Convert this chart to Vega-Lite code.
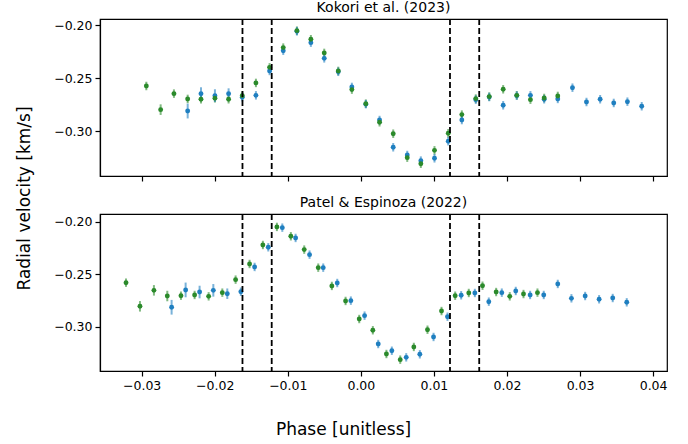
{
  "$schema": "https://vega.github.io/schema/vega-lite/v6.json",
  "background": "white",
  "padding": {"left": 15, "top": 0, "right": 5, "bottom": 5},
  "config": {
    "font": "DejaVu Sans",
    "view": {"stroke": "black", "strokeWidth": 1.2},
    "axis": {
      "domainColor": "black", "domainWidth": 1.2,
      "tickColor": "black", "tickWidth": 1.2, "tickSize": 5,
      "labelColor": "black", "labelFont": "DejaVu Sans", "labelFontSize": 12.5, "labelPadding": 3,
      "titleFont": "DejaVu Sans", "titleFontSize": 17, "titleFontWeight": "normal", "titleColor": "black",
      "grid": false
    },
    "title": {"font": "DejaVu Sans", "fontSize": 14, "fontWeight": "normal", "color": "black", "offset": 3},
    "concat": {"spacing": 38}
  },
  "datasets": {
    "kokori": [
      {"phase": -0.02936, "rv": -0.2571, "err": 0.004, "set": "B"},
      {"phase": -0.02740, "rv": -0.2794, "err": 0.005, "set": "B"},
      {"phase": -0.02558, "rv": -0.2643, "err": 0.004, "set": "B"},
      {"phase": -0.02370, "rv": -0.2693, "err": 0.004, "set": "B"},
      {"phase": -0.02188, "rv": -0.2696, "err": 0.004, "set": "B"},
      {"phase": -0.01997, "rv": -0.2687, "err": 0.004, "set": "B"},
      {"phase": -0.01810, "rv": -0.2696, "err": 0.004, "set": "B"},
      {"phase": -0.01623, "rv": -0.2662, "err": 0.004, "set": "B"},
      {"phase": -0.01436, "rv": -0.2542, "err": 0.004, "set": "B"},
      {"phase": -0.01249, "rv": -0.2395, "err": 0.004, "set": "B"},
      {"phase": -0.01062, "rv": -0.2209, "err": 0.004, "set": "B"},
      {"phase": -0.00875, "rv": -0.2049, "err": 0.004, "set": "B"},
      {"phase": -0.00684, "rv": -0.2130, "err": 0.004, "set": "B"},
      {"phase": -0.00501, "rv": -0.2259, "err": 0.004, "set": "B"},
      {"phase": -0.00309, "rv": -0.2429, "err": 0.004, "set": "B"},
      {"phase": -0.00123, "rv": -0.2605, "err": 0.004, "set": "B"},
      {"phase": 0.00068, "rv": -0.2738, "err": 0.004, "set": "B"},
      {"phase": 0.00256, "rv": -0.2913, "err": 0.004, "set": "B"},
      {"phase": 0.00443, "rv": -0.3021, "err": 0.004, "set": "B"},
      {"phase": 0.00635, "rv": -0.3247, "err": 0.004, "set": "B"},
      {"phase": 0.00821, "rv": -0.3304, "err": 0.004, "set": "B"},
      {"phase": 0.01008, "rv": -0.3178, "err": 0.004, "set": "B"},
      {"phase": 0.01196, "rv": -0.3017, "err": 0.004, "set": "B"},
      {"phase": 0.01382, "rv": -0.2841, "err": 0.004, "set": "B"},
      {"phase": 0.01573, "rv": -0.2690, "err": 0.004, "set": "B"},
      {"phase": 0.01757, "rv": -0.2671, "err": 0.004, "set": "B"},
      {"phase": 0.01948, "rv": -0.2602, "err": 0.004, "set": "B"},
      {"phase": 0.02134, "rv": -0.2659, "err": 0.004, "set": "B"},
      {"phase": 0.02321, "rv": -0.2700, "err": 0.004, "set": "B"},
      {"phase": 0.02509, "rv": -0.2684, "err": 0.004, "set": "B"},
      {"phase": 0.02695, "rv": -0.2665, "err": 0.004, "set": "B"},
      {"phase": -0.02370, "rv": -0.2807, "err": 0.007, "set": "A"},
      {"phase": -0.02188, "rv": -0.2643, "err": 0.006, "set": "A"},
      {"phase": -0.01997, "rv": -0.2662, "err": 0.006, "set": "A"},
      {"phase": -0.01810, "rv": -0.2643, "err": 0.005, "set": "A"},
      {"phase": -0.01623, "rv": -0.2677, "err": 0.004, "set": "A"},
      {"phase": -0.01436, "rv": -0.2659, "err": 0.004, "set": "A"},
      {"phase": -0.01249, "rv": -0.2429, "err": 0.004, "set": "A"},
      {"phase": -0.01062, "rv": -0.2238, "err": 0.004, "set": "A"},
      {"phase": -0.00875, "rv": -0.2055, "err": 0.004, "set": "A"},
      {"phase": -0.00684, "rv": -0.2162, "err": 0.004, "set": "A"},
      {"phase": -0.00501, "rv": -0.2310, "err": 0.004, "set": "A"},
      {"phase": -0.00309, "rv": -0.2437, "err": 0.004, "set": "A"},
      {"phase": -0.00123, "rv": -0.2580, "err": 0.004, "set": "A"},
      {"phase": 0.00068, "rv": -0.2742, "err": 0.004, "set": "A"},
      {"phase": 0.00256, "rv": -0.2892, "err": 0.004, "set": "A"},
      {"phase": 0.00443, "rv": -0.3149, "err": 0.004, "set": "A"},
      {"phase": 0.00635, "rv": -0.3222, "err": 0.004, "set": "A"},
      {"phase": 0.00821, "rv": -0.3275, "err": 0.004, "set": "A"},
      {"phase": 0.01008, "rv": -0.3253, "err": 0.004, "set": "A"},
      {"phase": 0.01196, "rv": -0.3092, "err": 0.004, "set": "A"},
      {"phase": 0.01382, "rv": -0.2892, "err": 0.004, "set": "A"},
      {"phase": 0.01573, "rv": -0.2700, "err": 0.004, "set": "A"},
      {"phase": 0.01757, "rv": -0.2675, "err": 0.004, "set": "A"},
      {"phase": 0.01948, "rv": -0.2753, "err": 0.004, "set": "A"},
      {"phase": 0.02134, "rv": -0.2662, "err": 0.004, "set": "A"},
      {"phase": 0.02321, "rv": -0.2659, "err": 0.004, "set": "A"},
      {"phase": 0.02509, "rv": -0.2696, "err": 0.004, "set": "A"},
      {"phase": 0.02695, "rv": -0.2693, "err": 0.004, "set": "A"},
      {"phase": 0.02896, "rv": -0.2587, "err": 0.004, "set": "A"},
      {"phase": 0.03088, "rv": -0.2722, "err": 0.004, "set": "A"},
      {"phase": 0.03275, "rv": -0.2696, "err": 0.004, "set": "A"},
      {"phase": 0.03461, "rv": -0.2731, "err": 0.004, "set": "A"},
      {"phase": 0.03648, "rv": -0.2719, "err": 0.004, "set": "A"},
      {"phase": 0.03844, "rv": -0.2762, "err": 0.004, "set": "A"}
    ],
    "patel": [
      {"phase": -0.03214, "rv": -0.2581, "err": 0.004, "set": "B"},
      {"phase": -0.03023, "rv": -0.2806, "err": 0.005, "set": "B"},
      {"phase": -0.02832, "rv": -0.2654, "err": 0.005, "set": "B"},
      {"phase": -0.02649, "rv": -0.2708, "err": 0.005, "set": "B"},
      {"phase": -0.02462, "rv": -0.2705, "err": 0.004, "set": "B"},
      {"phase": -0.02275, "rv": -0.2698, "err": 0.004, "set": "B"},
      {"phase": -0.02083, "rv": -0.2711, "err": 0.004, "set": "B"},
      {"phase": -0.01896, "rv": -0.2676, "err": 0.004, "set": "B"},
      {"phase": -0.01714, "rv": -0.2552, "err": 0.004, "set": "B"},
      {"phase": -0.01523, "rv": -0.2403, "err": 0.004, "set": "B"},
      {"phase": -0.01341, "rv": -0.2222, "err": 0.004, "set": "B"},
      {"phase": -0.01149, "rv": -0.2050, "err": 0.004, "set": "B"},
      {"phase": -0.00958, "rv": -0.2139, "err": 0.004, "set": "B"},
      {"phase": -0.00775, "rv": -0.2266, "err": 0.004, "set": "B"},
      {"phase": -0.00583, "rv": -0.2438, "err": 0.004, "set": "B"},
      {"phase": -0.00397, "rv": -0.2612, "err": 0.004, "set": "B"},
      {"phase": -0.00209, "rv": -0.2755, "err": 0.004, "set": "B"},
      {"phase": -0.00022, "rv": -0.2927, "err": 0.004, "set": "B"},
      {"phase": 0.00164, "rv": -0.3034, "err": 0.004, "set": "B"},
      {"phase": 0.00350, "rv": -0.3260, "err": 0.004, "set": "B"},
      {"phase": 0.00539, "rv": -0.3314, "err": 0.004, "set": "B"},
      {"phase": 0.00725, "rv": -0.3193, "err": 0.004, "set": "B"},
      {"phase": 0.00912, "rv": -0.3029, "err": 0.004, "set": "B"},
      {"phase": 0.01104, "rv": -0.2851, "err": 0.004, "set": "B"},
      {"phase": 0.01291, "rv": -0.2705, "err": 0.004, "set": "B"},
      {"phase": 0.01477, "rv": -0.2679, "err": 0.004, "set": "B"},
      {"phase": 0.01665, "rv": -0.2610, "err": 0.004, "set": "B"},
      {"phase": 0.01852, "rv": -0.2670, "err": 0.004, "set": "B"},
      {"phase": 0.02038, "rv": -0.2711, "err": 0.004, "set": "B"},
      {"phase": 0.02226, "rv": -0.2689, "err": 0.004, "set": "B"},
      {"phase": 0.02417, "rv": -0.2676, "err": 0.004, "set": "B"},
      {"phase": -0.02590, "rv": -0.2815, "err": 0.007, "set": "A"},
      {"phase": -0.02398, "rv": -0.2650, "err": 0.007, "set": "A"},
      {"phase": -0.02207, "rv": -0.2670, "err": 0.006, "set": "A"},
      {"phase": -0.02019, "rv": -0.2654, "err": 0.006, "set": "A"},
      {"phase": -0.01828, "rv": -0.2686, "err": 0.005, "set": "A"},
      {"phase": -0.01642, "rv": -0.2667, "err": 0.004, "set": "A"},
      {"phase": -0.01454, "rv": -0.2431, "err": 0.004, "set": "A"},
      {"phase": -0.01267, "rv": -0.2244, "err": 0.004, "set": "A"},
      {"phase": -0.01075, "rv": -0.2057, "err": 0.004, "set": "A"},
      {"phase": -0.00893, "rv": -0.2155, "err": 0.004, "set": "A"},
      {"phase": -0.00702, "rv": -0.2314, "err": 0.004, "set": "A"},
      {"phase": -0.00515, "rv": -0.2438, "err": 0.004, "set": "A"},
      {"phase": -0.00323, "rv": -0.2584, "err": 0.004, "set": "A"},
      {"phase": -0.00137, "rv": -0.2752, "err": 0.004, "set": "A"},
      {"phase": 0.00051, "rv": -0.2895, "err": 0.004, "set": "A"},
      {"phase": 0.00238, "rv": -0.3165, "err": 0.004, "set": "A"},
      {"phase": 0.00424, "rv": -0.3229, "err": 0.004, "set": "A"},
      {"phase": 0.00621, "rv": -0.3292, "err": 0.004, "set": "A"},
      {"phase": 0.00807, "rv": -0.3263, "err": 0.004, "set": "A"},
      {"phase": 0.00995, "rv": -0.3098, "err": 0.004, "set": "A"},
      {"phase": 0.01186, "rv": -0.2905, "err": 0.004, "set": "A"},
      {"phase": 0.01373, "rv": -0.2701, "err": 0.004, "set": "A"},
      {"phase": 0.01560, "rv": -0.2679, "err": 0.004, "set": "A"},
      {"phase": 0.01751, "rv": -0.2762, "err": 0.004, "set": "A"},
      {"phase": 0.01929, "rv": -0.2676, "err": 0.004, "set": "A"},
      {"phase": 0.02120, "rv": -0.2660, "err": 0.004, "set": "A"},
      {"phase": 0.02317, "rv": -0.2698, "err": 0.004, "set": "A"},
      {"phase": 0.02503, "rv": -0.2698, "err": 0.004, "set": "A"},
      {"phase": 0.02695, "rv": -0.2593, "err": 0.004, "set": "A"},
      {"phase": 0.02882, "rv": -0.2730, "err": 0.004, "set": "A"},
      {"phase": 0.03070, "rv": -0.2708, "err": 0.004, "set": "A"},
      {"phase": 0.03261, "rv": -0.2739, "err": 0.004, "set": "A"},
      {"phase": 0.03447, "rv": -0.2727, "err": 0.004, "set": "A"},
      {"phase": 0.03639, "rv": -0.2768, "err": 0.004, "set": "A"}
    ],
    "contacts": [
      {"phase": -0.0162},
      {"phase": -0.0122},
      {"phase": 0.0122},
      {"phase": 0.0162}
    ]
  },
  "bounds": "flush",
  "vconcat": [
    {
      "title": "Kokori et al. (2023)",
      "width": 567,
      "height": 157,
      "layer": [
        {
          "data": {"name": "kokori"},
          "mark": {"type": "errorbar", "thickness": 2, "opacity": 0.6},
          "encoding": {
            "x": {"field": "phase", "type": "quantitative",
                  "scale": {"domain": [-0.0357, 0.0419], "nice": false, "zero": false},
                  "axis": {"values": [-0.03, -0.02, -0.01, 0, 0.01, 0.02, 0.03, 0.04], "labels": false, "title": null}},
            "y": {"field": "rv", "type": "quantitative",
                  "scale": {"domain": [-0.342, -0.1939], "nice": false, "zero": false},
                  "axis": {"values": [-0.3, -0.25, -0.2], "format": ".2f", "title": "Radial velocity [km/s]",
                           "titleY": 179, "titlePadding": 20}},
            "yError": {"field": "err"},
            "color": {"field": "set", "type": "nominal", "scale": {"domain": ["A", "B"], "range": ["#1f7fc0", "#2b8a2b"]}, "legend": null}
          }
        },
        {
          "data": {"name": "kokori"},
          "mark": {"type": "circle", "size": 24, "opacity": 1},
          "encoding": {
            "x": {"field": "phase", "type": "quantitative"},
            "y": {"field": "rv", "type": "quantitative"},
            "color": {"field": "set", "type": "nominal", "legend": null},
            "order": {"field": "set", "type": "nominal"}
          }
        },
        {
          "data": {"name": "contacts"},
          "mark": {"type": "rule", "color": "black", "strokeWidth": 1.8, "strokeDash": [6, 3]},
          "encoding": {"x": {"field": "phase", "type": "quantitative"}}
        }
      ]
    },
    {
      "title": "Patel & Espinoza (2022)",
      "width": 567,
      "height": 157,
      "layer": [
        {
          "data": {"name": "patel"},
          "mark": {"type": "errorbar", "thickness": 2, "opacity": 0.6},
          "encoding": {
            "x": {"field": "phase", "type": "quantitative",
                  "scale": {"domain": [-0.0357, 0.0419], "nice": false, "zero": false},
                  "axis": {"values": [-0.03, -0.02, -0.01, 0, 0.01, 0.02, 0.03, 0.04], "format": ".2f",
                           "title": "Phase [unitless]", "titlePadding": 30, "titleX": 243}},
            "y": {"field": "rv", "type": "quantitative",
                  "scale": {"domain": [-0.3422, -0.1927], "nice": false, "zero": false},
                  "axis": {"values": [-0.3, -0.25, -0.2], "format": ".2f", "title": null}},
            "yError": {"field": "err"},
            "color": {"field": "set", "type": "nominal", "scale": {"domain": ["A", "B"], "range": ["#1f7fc0", "#2b8a2b"]}, "legend": null}
          }
        },
        {
          "data": {"name": "patel"},
          "mark": {"type": "circle", "size": 24, "opacity": 1},
          "encoding": {
            "x": {"field": "phase", "type": "quantitative"},
            "y": {"field": "rv", "type": "quantitative"},
            "color": {"field": "set", "type": "nominal", "legend": null},
            "order": {"field": "set", "type": "nominal"}
          }
        },
        {
          "data": {"name": "contacts"},
          "mark": {"type": "rule", "color": "black", "strokeWidth": 1.8, "strokeDash": [6, 3]},
          "encoding": {"x": {"field": "phase", "type": "quantitative"}}
        }
      ]
    }
  ]
}
